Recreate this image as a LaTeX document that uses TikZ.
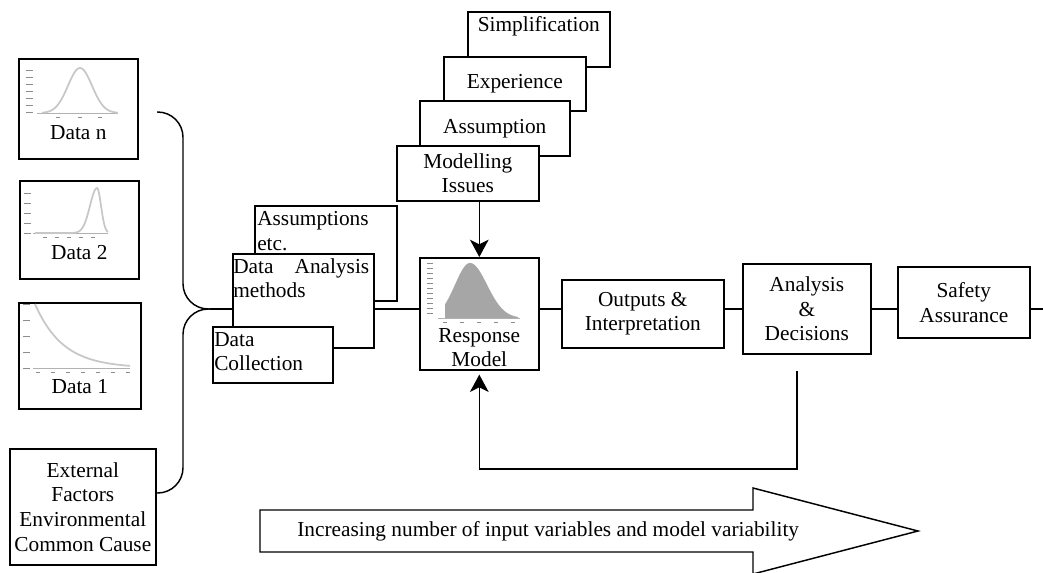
\documentclass[tikz,border=0pt]{standalone}
\usepackage{fontspec}
\setmainfont{Liberation Serif}
\usetikzlibrary{arrows.meta,positioning,calc}
\setlength\parindent{0pt}
\newcommand{\figfont}{\fontsize{16}{18.5}\selectfont}

\begin{document}
\begin{tikzpicture}[
  x=0.75pt, y=-0.75pt,
  box/.style={draw, line width=1.2pt, fill=white, inner sep=0pt, align=center, font=\figfont, anchor=north west},
  lbl/.style={inner sep=0pt, align=left, font=\figfont},
  ln/.style={line width=1.1pt},
  arr/.style={-{Stealth[length=13pt,width=14pt,inset=3.5pt]}, line width=1.1pt},
  curve/.style={black!22, line width=1.3pt},
  tick/.style={black!45, line width=0.7pt},
  axis/.style={black!30, line width=0.5pt}
]
\useasboundingbox (0,0) rectangle (1043,572);

% input data
\node[box, minimum width=89.25pt, minimum height=75pt] (datan) at (18,58) {};
\foreach \yy in {70,77,...,112} \draw[tick] (26,\yy) -- (33,\yy);
\draw[axis] (37,113) -- (118,113);
\foreach \xx in {58,80,100} \draw[tick] (\xx-2,117) -- (\xx+2,117);
\draw[curve] plot[domain=42:118, samples=60] (\x,{113-45*exp(-((\x-80)^2)/288)});
\node[lbl, above=15pt of datan.south] (datan-t) {Data n};

\node[box, minimum width=89.25pt, minimum height=73.5pt] (data2) at (19,180) {};
\foreach \yy in {193,203,...,233} \draw[tick] (24,\yy) -- (31,\yy);
\draw[axis] (33,233) -- (108,233);
\foreach \xx in {45,57,...,93} \draw[tick] (\xx-2,237) -- (\xx+2,237);
\draw[curve] plot[domain=35:97, samples=50] (\x,{233-45*exp(-((\x-97)^2)/98)})
  -- plot[domain=97:108, samples=20] (\x,{233-45*exp(-((\x-97)^2)/32)});
\node[lbl, above=15pt of data2.south] (data2-t) {Data 2};

\node[box, minimum width=91.5pt, minimum height=79.5pt] (data1) at (18,302) {};
\foreach \yy in {304,320,...,368} \draw[tick] (23,\yy) -- (30,\yy);
\draw[axis] (33,368) -- (130,368);
\foreach \xx in {38,53,...,128} \draw[tick] (\xx-2,372) -- (\xx+2,372);
\draw[curve] plot[domain=35:130, samples=50] (\x,{368-64*exp(-(\x-35)/28)});
\node[lbl, above=12pt of data1.south] (data1-t) {Data 1};

\node[box, minimum width=109.5pt, minimum height=87pt] (ext) at (9,448) {External\\Factors\\Environmental\\Common Cause};

% brace into the analysis
\coordinate (btop) at (157,112);
\coordinate (bbot) at (157,493);
\coordinate (tip) at (210,309);
\draw[ln, rounded corners=19pt] (btop) -| (183,309) -- (tip);
\draw[ln, rounded corners=19pt] (tip) -- (183,309) |- (bbot);

\node[box, minimum width=106.5pt, minimum height=71.25pt] (assumetc) at (254,205) {};
\node[lbl, below right=4.5pt and 2.25pt of assumetc.north west] (assumetc-t) {Assumptions\\etc.};
\node[box, minimum width=105.75pt, minimum height=70.5pt] (methods) at (232,253) {};
\node[lbl, text width=102pt, below right=3.75pt and 0.75pt of methods.north west] (methods-t) {Data\hskip 0pt plus 1filll Analysis\\methods};
\node[box, minimum width=90pt, minimum height=42pt] (collect) at (212,326) {};
\node[lbl, below right=4.5pt and 1.5pt of collect.north west] (collect-t) {Data\\Collection};

% modelling stack
\node[box, minimum width=106.5pt, minimum height=41.25pt] (simp) at (467,11) {};
\node[lbl, below=3.75pt of simp.north] (simp-t) {Simplification};
\node[box, minimum width=106.5pt, minimum height=40.5pt] (exper) at (443,56) {Experience};
\node[box, minimum width=112.5pt, minimum height=41.25pt] (assumption) at (419,100) {Assumption};
\node[box, minimum width=106.5pt, minimum height=41.25pt] (issues) at (396,145) {Modelling\\Issues};

% response model
\node[box, minimum width=89.25pt, minimum height=84pt] (resp) at (419,257) {};
\foreach \yy in {263,268,...,313} \draw[tick] (427,\yy) -- (433,\yy);
\draw[axis] (438,318) -- (520,318);
\foreach \xx in {445,462,...,513} \draw[tick] (\xx-2,322) -- (\xx+2,322);
\fill[black!35] (445,318) -- plot[domain=445:470, samples=30] (\x,{318-55*exp(-((\x-470)^2)/450)})
  -- plot[domain=470:518, samples=40] (\x,{318-55*exp(-((\x-470)^2)/578)}) -- (518,318) -- cycle;
\node[lbl, align=center, above=2.5pt of resp.south] (resp-t) {Response\\Model};

\node[box, minimum width=121.5pt, minimum height=51pt] (outputs) at (561,279) {Outputs \&\\Interpretation};
\node[box, minimum width=96pt, minimum height=67.5pt] (decide) at (742,263) {Analysis\\\&\\Decisions};
\node[box, minimum width=99pt, minimum height=53.25pt] (safety) at (897,266) {Safety\\Assurance};
\coordinate (outr) at (1046,309);
\coordinate (fb) at (797,371);

% connectors
\draw[ln] (tip) -- (tip -| methods.west);
\draw[ln] (tip -| methods.east) -- (tip -| resp.west);
\draw[ln] (tip -| resp.east) -- (tip -| outputs.west);
\draw[ln] (tip -| outputs.east) -- (tip -| decide.west);
\draw[ln] (tip -| decide.east) -- (tip -| safety.west);
\draw[ln] (tip -| safety.east) -- (outr);
\draw[arr] (issues.south -| resp.north) -- (resp.north);
\draw[arr, shorten >=3pt] (fb) -- ++(0,98) -| (resp.south);

% trend arrow
\draw[line width=1.1pt, fill=white] (260,510) -- (753,510) -- (753,488) -- (918,531)
  -- (753,574) -- (753,552) -- (260,552) -- cycle;
\node[lbl, anchor=west] (trend) at (297,531) {Increasing number of input variables and model variability};
\end{tikzpicture}
\end{document}
